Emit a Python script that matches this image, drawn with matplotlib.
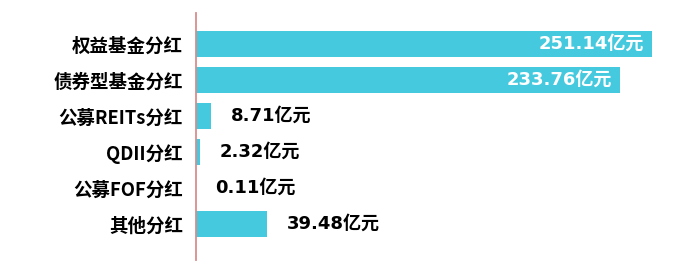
import matplotlib.pyplot as plt

plt.rcParams['font.family'] = ['DejaVu Sans', 'Noto Sans CJK SC']

# dividend amounts by fund type (100 million yuan)
categories = ["权益基金分红", "债券型基金分红", "公募REITs分红", "QDII分红", "公募FOF分红", "其他分红"]
values = [251.14, 233.76, 8.71, 2.32, 0.11, 39.48]
value_labels = ["251.14亿元", "233.76亿元", "8.71亿元", "2.32亿元", "0.11亿元", "39.48亿元"]

bar_color = "#45C9DE"

fig = plt.figure(figsize=(7, 2.74), dpi=100)
ax = fig.add_axes([195.5 / 700, 14 / 274, 1 - 195.5 / 700, 247 / 274])

y = list(range(len(categories)))
ax.barh(y, values, height=0.72, color=bar_color)

ax.set_xlim(0, (700 - 195.5) / 1.818)
ax.set_ylim(len(categories), -0.861)

ax.set_yticks(y)
ax.set_yticklabels(categories, fontsize=13.3, fontweight="bold",
                   family=['Noto Sans CJK SC'])
ax.tick_params(axis="y", length=0, pad=9)
ax.set_xticks([])

for s in ["top", "right", "bottom"]:
    ax.spines[s].set_visible(False)
ax.spines["left"].set_color("#D98C8C")
ax.spines["left"].set_linewidth(1.3)

for yi, v, lab in zip(y, values, value_labels):
    if v > 100:
        ax.annotate(lab, (v, yi), xytext=(-6, 0), textcoords="offset points",
                    ha="right", va="center", color="white",
                    fontsize=13, fontweight="bold")
    else:
        ax.annotate(lab, (v, yi), xytext=(14, 0), textcoords="offset points",
                    ha="left", va="center", color="black",
                    fontsize=13, fontweight="bold")

fig.savefig("out.png", dpi=100, facecolor="white")
